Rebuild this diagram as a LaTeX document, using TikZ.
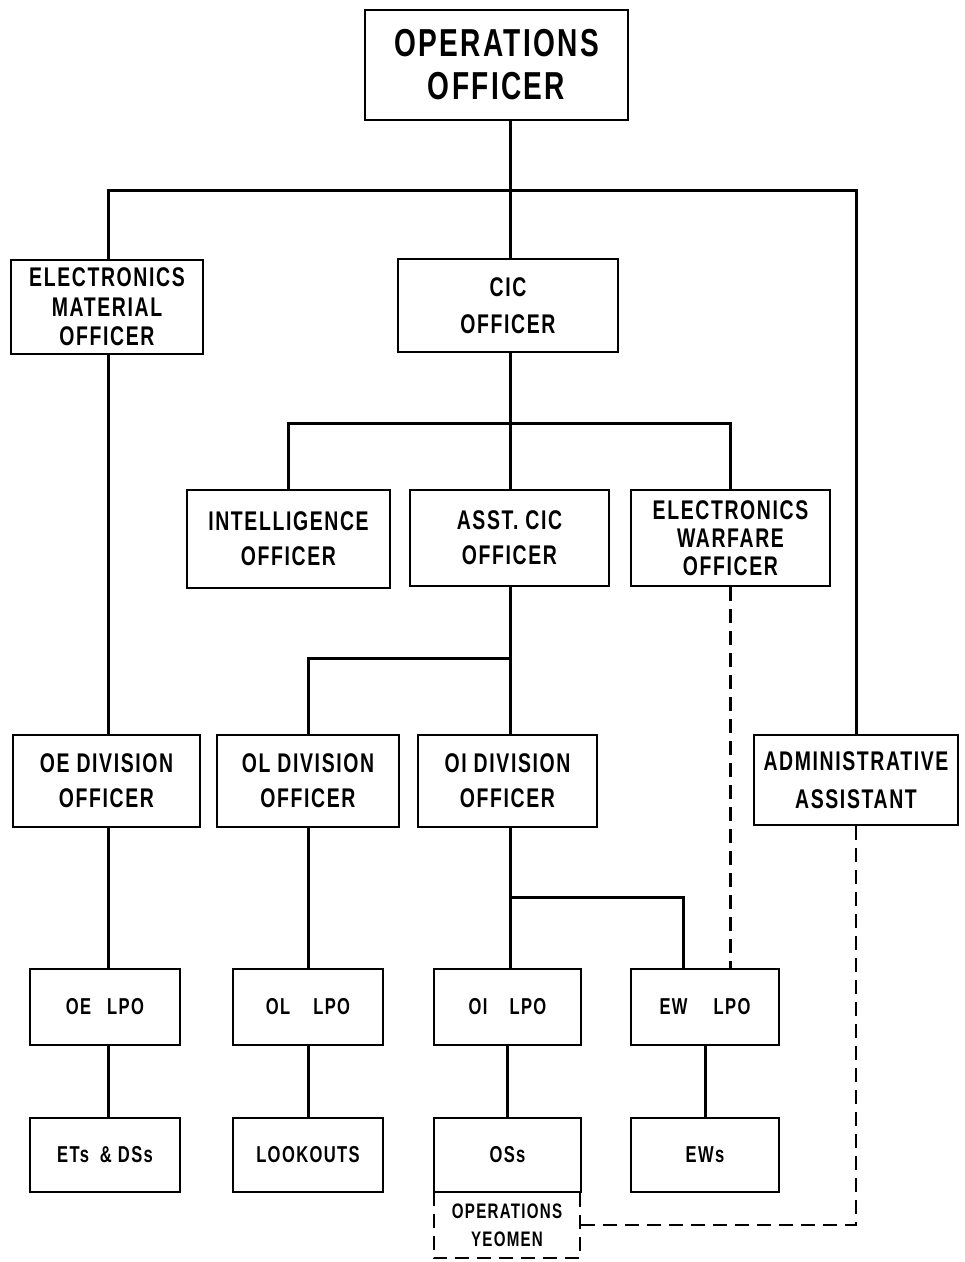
\documentclass[tikz,border=0pt]{standalone}
\usepackage{fontspec}
\setmainfont{Liberation Sans Bold}[FakeStretch=0.72,LetterSpace=6]
\begin{document}
\begin{tikzpicture}[x=1pt,y=-1pt,
  box/.style={draw,line width=2pt,align=center,inner sep=0pt,font=\fontsize{27}{35}\selectfont},
  small/.style={draw,line width=2pt,align=center,inner sep=0pt,font=\fontsize{23}{26}\selectfont},
  conn/.style={line width=3pt},
  dashline/.style={line width=2.5pt,dash pattern=on 14pt off 8pt}]
\useasboundingbox (0,0) rectangle (965,1262);
% top
\node[box,minimum width=263,minimum height=110,font=\fontsize{39}{43}\selectfont] (ops) at (496.5,65) {OPERATIONS\\OFFICER};
\node[box,minimum width=192,minimum height=94,font=\fontsize{27}{29.5}\selectfont] (emo) at (107,307) {ELECTRONICS\\MATERIAL\\OFFICER};
\node[box,minimum width=220,minimum height=93,font=\fontsize{27}{37}\selectfont] (cic) at (508,305.5) {CIC\\OFFICER};
\node[box,minimum width=203,minimum height=98] (intel) at (288.5,539) {INTELLIGENCE\\OFFICER};
\node[box,minimum width=199,minimum height=96] (asst) at (509.5,538) {ASST. CIC\\OFFICER};
\node[box,minimum width=199,minimum height=96,font=\fontsize{27}{28}\selectfont] (ewo) at (730.5,538) {ELECTRONICS\\WARFARE\\OFFICER};
% divisions
\node[box,minimum width=187,minimum height=92] (oediv) at (106.5,781) {OE DIVISION\\OFFICER};
\node[box,minimum width=182,minimum height=92] (oldiv) at (308,781) {OL DIVISION\\OFFICER};
\node[box,minimum width=179,minimum height=92] (oidiv) at (507.5,781) {OI DIVISION\\OFFICER};
\node[box,minimum width=204,minimum height=90,font=\fontsize{27}{38}\selectfont] (admin) at (856,780) {ADMINISTRATIVE\\ASSISTANT};
% LPOs
\node[small,minimum width=150,minimum height=76] (oelpo) at (105,1007) {OE\hspace{16pt}LPO};
\node[small,minimum width=150,minimum height=76] (ollpo) at (308,1007) {OL\hspace{23pt}LPO};
\node[small,minimum width=147,minimum height=76] (oilpo) at (507.5,1007) {OI\hspace{22pt}LPO};
\node[small,minimum width=148,minimum height=76] (ewlpo) at (705,1007) {EW\hspace{26pt}LPO};
% bottom
\node[small,minimum width=150,minimum height=74] (ets) at (105,1155) {ETs\hspace{11pt}\&\hspace{6pt}DSs};
\node[small,minimum width=150,minimum height=74] (look) at (308,1155) {LOOKOUTS};
\node[small,minimum width=147,minimum height=74] (oss) at (507.5,1155) {OSs};
\node[small,minimum width=148,minimum height=74] (ews) at (705,1155) {EWs};
\node[align=center,inner sep=0pt,minimum width=146,minimum height=66,font=\fontsize{21}{28}\selectfont] (yeo) at (507,1225) {OPERATIONS\\YEOMEN};
\draw[dashline] (yeo.north west) -- (yeo.south west) -- (yeo.south east) -- (yeo.north east);
% junctions
\coordinate (t) at (510,190);
\coordinate (b2) at (510,423);
\coordinate (b3) at (510,658);
\coordinate (b4) at (510,897);
\coordinate (b5) at (683,897);
\coordinate (le) at (108,190);
% connectors
\draw[conn] (t |- ops.south) -- (t |- cic.north);
\draw[conn] (le |- emo.north) -- (le) -- (t) -| (admin.north);
\draw[conn] (t |- cic.south) -- (b2);
\draw[conn] (intel.north) |- (b2) -| (ewo.north);
\draw[conn] (b2) -- (b2 |- asst.north);
\draw[conn] (b3 |- asst.south) -- (b3 |- oidiv.north);
\draw[conn] (b3) -| (oldiv.north);
\draw[conn] (le |- emo.south) -- (le |- oediv.north);
\draw[conn] (le |- oediv.south) -- (le |- oelpo.north);
\draw[conn] (le |- oelpo.south) -- (le |- ets.north);
\draw[conn] (oldiv.south) -- (ollpo.north);
\draw[conn] (ollpo.south) -- (look.north);
\draw[conn] (b4 |- oidiv.south) -- (b4 |- oilpo.north);
\draw[conn] (oilpo.south) -- (oss.north);
\draw[conn] (b4) -- (b5) -- (b5 |- ewlpo.north);
\draw[conn] (ewlpo.south) -- (ews.north);
\draw[dashline] (ewo.south) -- (ewo.south |- ewlpo.north);
\draw[dashline] (admin.south) |- (yeo.east);
\end{tikzpicture}
\end{document}
